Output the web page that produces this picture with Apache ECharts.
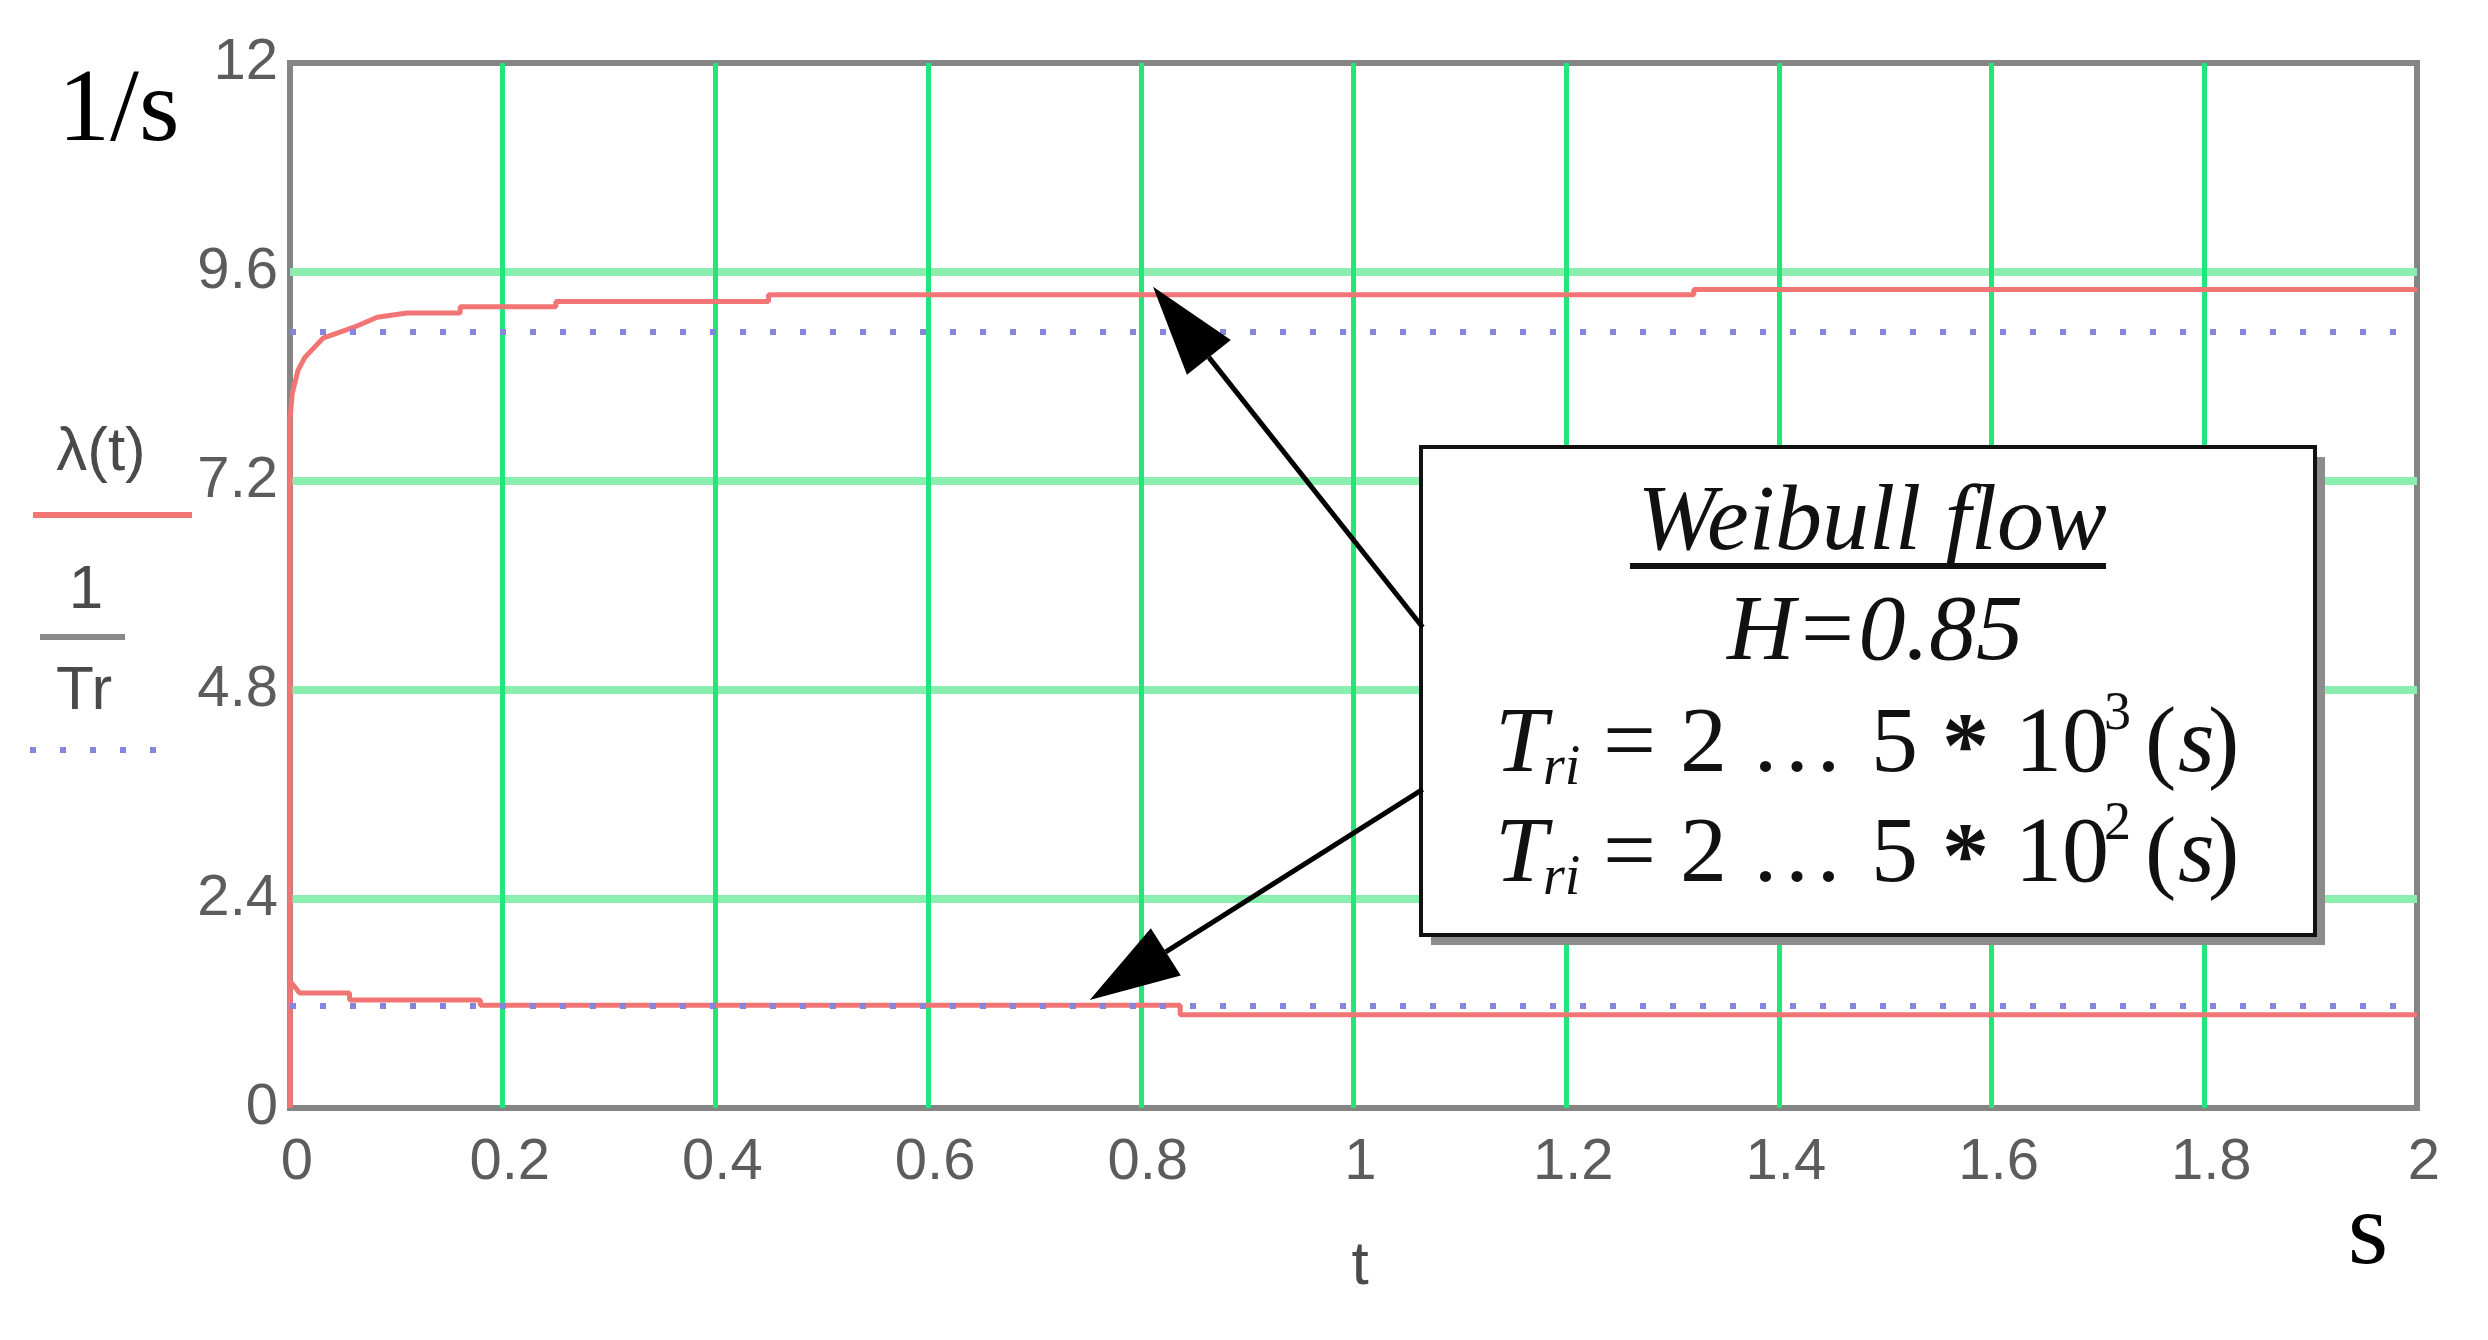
<!DOCTYPE html>
<html>
<head>
<meta charset="utf-8">
<script src="https://cdn.jsdelivr.net/npm/echarts@6/dist/echarts.min.js"></script>
<style>
    html, body { margin: 0; padding: 0; background: #fff; }
    #chart { width: 2488px; height: 1340px; }
</style>
</head>
<body>
<div id="chart"></div>
<script>
// axis ticks
const xTicks = [0, 0.2, 0.4, 0.6, 0.8, 1, 1.2, 1.4, 1.6, 1.8, 2];
const yTicks = [0, 2.4, 4.8, 7.2, 9.6, 12];

// lambda(t), Tri = 2...5*10^3 s (upper red curve)
const tUpper = [0, 0, 0.002, 0.0075, 0.014, 0.031, 0.059, 0.082, 0.11, 0.16, 0.16, 0.25, 0.25, 0.45, 0.45, 1.32, 1.32, 2];
const lambdaUpper = [0, 7.9, 8.2, 8.47, 8.62, 8.84, 8.96, 9.08, 9.13, 9.13, 9.2, 9.2, 9.26, 9.26, 9.34, 9.34, 9.4, 9.4];

// lambda(t), Tri = 2...5*10^2 s (lower red curve)
const tLower = [0, 0, 0.002, 0.009, 0.056, 0.056, 0.179, 0.179, 0.837, 0.837, 2];
const lambdaLower = [0, 1.43, 1.43, 1.32, 1.32, 1.24, 1.24, 1.18, 1.18, 1.07, 1.07];

// 1/Tr (dotted blue)
const tFlat = [0, 2];
const invTrUpper = [8.91, 8.91];
const invTrLower = [1.17, 1.17];

// arrows of the note box: [t, value]
const arrowTips = [[0.8115, 9.43], [0.752, 1.24]];
const arrowTails = [[1.065, 5.52], [1.065, 3.66]];

const zip = (xs, ys) => xs.map((x, i) => [x, ys[i]]);

const sansNarrow = "'Liberation Sans Narrow', 'Liberation Sans', Arial, sans-serif";
const serif = "'Liberation Serif', 'DejaVu Serif', serif";

const chart = echarts.init(document.getElementById('chart'), null, { renderer: 'canvas' });

const redLine = { color: '#f27575', width: 5 };
const blueDots = { color: '#8585dd', width: 6, type: [6, 24], cap: 'butt' };

chart.setOption({
    animation: false,
    backgroundColor: '#fff',
    grid: {
        left: 290,
        right: 71,
        top: 63,
        bottom: 232,
        show: true,
        borderColor: '#858585',
        borderWidth: 6,
        backgroundColor: '#fff'
    },
    xAxis: {
        type: 'value',
        min: xTicks[0],
        max: xTicks[xTicks.length - 1],
        interval: 0.2,
        axisLine: { show: false },
        axisTick: { show: false },
        axisLabel: {
            margin: 26,
            fontSize: 58,
            fontFamily: sansNarrow,
            color: '#5c5c5c',
            padding: [0, 0, 0, 14],
            formatter: v => String(+v.toFixed(1))
        },
        splitLine: {
            show: true,
            showMinLine: false,
            showMaxLine: false,
            lineStyle: { color: '#22e67a', width: 5 }
        }
    },
    yAxis: {
        type: 'value',
        min: yTicks[0],
        max: yTicks[yTicks.length - 1],
        interval: 2.4,
        axisLine: { show: false },
        axisTick: { show: false },
        axisLabel: {
            margin: 12,
            fontSize: 58,
            fontFamily: sansNarrow,
            color: '#5c5c5c',
            formatter: v => String(+v.toFixed(1))
        },
        splitLine: {
            show: true,
            showMinLine: false,
            showMaxLine: false,
            lineStyle: { color: '#8aefae', width: 8 }
        }
    },
    series: [
        {
            name: 'lambda upper',
            type: 'line',
            data: zip(tUpper, lambdaUpper),
            showSymbol: false,
            clip: false,
            lineStyle: redLine,
            z: 3
        },
        {
            name: 'lambda lower',
            type: 'line',
            data: zip(tLower, lambdaLower),
            showSymbol: false,
            clip: false,
            lineStyle: redLine,
            z: 3
        },
        {
            name: '1/Tr upper',
            type: 'line',
            data: zip(tFlat, invTrUpper),
            showSymbol: false,
            lineStyle: blueDots,
            z: 4
        },
        {
            name: '1/Tr lower',
            type: 'line',
            data: zip(tFlat, invTrLower),
            showSymbol: false,
            lineStyle: blueDots,
            z: 4
        }
    ]
});

// text helpers
function txt(text, x, y, size, opts) {
    opts = opts || {};
    return {
        type: 'text',
        z: 20,
        style: {
            text: text,
            x: x,
            y: y,
            fontSize: size,
            fontFamily: opts.family || serif,
            fontStyle: opts.italic ? 'italic' : 'normal',
            fontWeight: opts.bold ? 'bold' : 'normal',
            fill: opts.color || '#111',
            align: opts.align || 'left',
            verticalAlign: 'middle'
        }
    };
}

function formulaLine(mid, supText) {
    return [
        txt('T', 1495, mid, 94, { italic: true }),
        txt('ri', 1543, mid + 23, 56, { italic: true }),
        txt('=', 1603, mid, 94),
        txt('2', 1680, mid, 94),
        txt('\u2026', 1750, mid, 94),
        txt('5', 1871, mid, 94),
        txt('*', 1942, mid + 6, 94, { bold: true }),
        txt('10', 2015, mid, 94),
        txt(supText, 2104, mid - 31, 54),
        txt('(', 2145, mid, 94),
        txt('s', 2178, mid, 94, { italic: true }),
        txt(')', 2208, mid, 94)
    ];
}

// arrows in data coordinates
const arrows = [];
arrowTips.forEach((tip, i) => {
    const p = chart.convertToPixel({ gridIndex: 0 }, tip);
    const q = chart.convertToPixel({ gridIndex: 0 }, arrowTails[i]);
    const dx = q[0] - p[0], dy = q[1] - p[1];
    const len = Math.sqrt(dx * dx + dy * dy);
    const ux = dx / len, uy = dy / len;
    const headLen = 90, headHalf = 28;
    const bx = p[0] + ux * headLen, by = p[1] + uy * headLen;
    arrows.push({
        type: 'polyline',
        z: 18,
        shape: { points: [[q[0], q[1]], [bx, by]] },
        style: { stroke: '#000', lineWidth: 5 }
    });
    arrows.push({
        type: 'polygon',
        z: 18,
        shape: { points: [[p[0], p[1]], [bx - uy * headHalf, by + ux * headHalf], [bx + uy * headHalf, by - ux * headHalf]] },
        style: { fill: '#000' }
    });
});

chart.setOption({
    graphic: [
        // note box with shadow
        { type: 'rect', z: 15, shape: { x: 1431, y: 457, width: 894, height: 488 }, style: { fill: '#8c8c8c' } },
        { type: 'rect', z: 16, shape: { x: 1421, y: 447, width: 894, height: 488 }, style: { fill: '#fff', stroke: '#111', lineWidth: 4 } },
        txt('Weibull flow', 1872, 524, 94, { italic: true, align: 'center' }),
        { type: 'line', z: 20, shape: { x1: 1630, y1: 566, x2: 2106, y2: 566 }, style: { stroke: '#111', lineWidth: 6 } },
        txt('H=0.85', 1875, 634, 94, { italic: true, align: 'center' }),
        ...formulaLine(746, '3'),
        ...formulaLine(856, '2'),
        ...arrows,

        // y axis name / legend on the left
        txt('1/s', 58, 113, 104, { color: '#000' }),
        txt('\u03bb(t)', 101, 453, 62, { family: "'Liberation Sans', Arial, sans-serif", color: '#4a4a4a', align: 'center' }),
        { type: 'line', z: 20, shape: { x1: 33, y1: 515, x2: 192, y2: 515 }, style: { stroke: '#f27575', lineWidth: 6 } },
        txt('1', 86, 591, 62, { family: "'Liberation Sans', Arial, sans-serif", color: '#4a4a4a', align: 'center' }),
        { type: 'line', z: 20, shape: { x1: 40, y1: 637, x2: 125, y2: 637 }, style: { stroke: '#8a8a8a', lineWidth: 6 } },
        txt('Tr', 84, 692, 62, { family: "'Liberation Sans', Arial, sans-serif", color: '#4a4a4a', align: 'center' }),
        { type: 'line', z: 20, shape: { x1: 30, y1: 750, x2: 176, y2: 750 }, style: { stroke: '#8585dd', lineWidth: 6, lineDash: [6, 24] } },

        // x axis name
        txt('t', 1360, 1267, 62, { family: "'Liberation Sans', Arial, sans-serif", color: '#4a4a4a', align: 'center' }),
        txt('s', 2368, 1236, 104, { color: '#000', align: 'center' })
    ]
});
</script>
</body>
</html>
